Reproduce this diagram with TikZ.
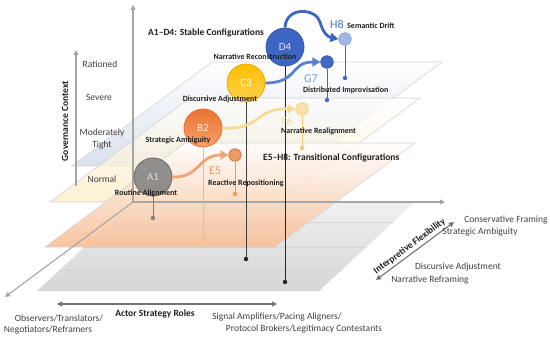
\documentclass[tikz,border=0pt]{standalone}
\usepackage{fontspec}
\setmainfont{Carlito}
\usetikzlibrary{arrows.meta}
\definecolor{axgray}{HTML}{A6A6A6}
\definecolor{txt}{HTML}{404040}
\definecolor{capc}{HTML}{1F1F1F}
\definecolor{aone}{HTML}{7F7F7F}
\definecolor{btwoA}{HTML}{EA7331}
\definecolor{btwoB}{HTML}{F4A36B}
\definecolor{cthreeA}{HTML}{FFBF00}
\definecolor{cthreeB}{HTML}{FAD04F}
\definecolor{dfour}{HTML}{3D66C2}
\definecolor{efive}{HTML}{EF9A61}
\definecolor{fsix}{HTML}{F5DB96}
\definecolor{gseven}{HTML}{3E6AC6}
\definecolor{heightc}{HTML}{A3B7E2}
\definecolor{glab}{HTML}{7E9ED8}
\definecolor{hlab}{HTML}{4A74C6}
\definecolor{flab}{HTML}{F6DE9E}
\definecolor{planeedge}{HTML}{D4D4D4}
\tikzset{
  plane/.style={draw=planeedge, line width=0.6pt},
  axis/.style={draw=axgray, line width=1.1pt, -{Triangle[length=5pt,width=5pt]}},
  daxis/.style={draw=axgray, line width=1.1pt, {Triangle[length=5pt,width=5pt]}-{Triangle[length=5pt,width=5pt]}},
  lvl/.style={text=txt, font=\fontsize{9.5}{11}\selectfont, inner sep=0pt},
  bold/.style={text=capc, font=\fontsize{9.5}{11}\selectfont\bfseries, inner sep=0pt},
  capt/.style={text=capc, font=\fontsize{8}{9}\selectfont\bfseries, inner sep=0pt},
  big/.style={circle, minimum size=38pt, inner sep=0pt, line width=0.8pt, font=\fontsize{11}{12}\selectfont},
  small/.style={circle, minimum size=12.5pt, inner sep=0pt, line width=0.7pt},
  dot/.style={circle, minimum size=4.5pt, inner sep=0pt},
  stem/.style={line width=1pt},
  flow/.style={line width=2.8pt, -{Triangle[length=8pt,width=9pt]}},
  tag/.style={font=\fontsize{12}{13}\selectfont, inner sep=0pt},
}
\begin{document}
\begin{tikzpicture}[x=1pt,y=-1pt]
\useasboundingbox (0,0) rectangle (550,337);
% gray base plane
\shade[top color=white!94!black, bottom color=white!84!black] (133,202) -- (415,202) -- (320,290) -- (38,290) -- cycle;
\draw[planeedge, line width=0.5pt] (110,222) -- (394,222);
\draw[planeedge, line width=0.5pt] (83,247) -- (367,247);
\draw[planeedge, line width=0.5pt] (60,270) -- (342,270);
\draw[planeedge, line width=0.5pt] (38,290) -- (320,290);
% blue plane
\shade[plane, top color=white, bottom color={rgb,255:red,205;green,214;blue,230}, fill opacity=0.75] (212,62) -- (442,62) -- (302,166) -- (72,166) -- cycle;
% yellow plane
\shade[plane, top color=white, bottom color={rgb,255:red,251;green,236;blue,196}, fill opacity=0.75] (190,98) -- (420,98) -- (280,202) -- (50,202) -- cycle;
% orange plane
\shade[plane, top color=white, bottom color={rgb,255:red,247;green,190;blue,150}, fill opacity=0.9] (185,143) -- (415,143) -- (275,247) -- (45,247) -- cycle;
% axes
\coordinate (O) at (133,202);
\coordinate (up) at (133,5);
\coordinate (rt) at (445,202);
\coordinate (dl) at (5,297);
\draw[axis] (O) -- (up);
\draw[axis] (O) -- (rt);
\draw[axis] (O) -- (dl);
% governance context axis
\coordinate (g0) at (76,186);
\coordinate (g1) at (76,50);
\draw[axis] (g0) -- (g1);
\node[bold, rotate=90] (gov) at (65,121) {Governance Context};
\node[lvl] (l1) at (100,64) {Rationed};
\node[lvl] (l2) at (99,97) {Severe};
\node[lvl, align=center, font=\fontsize{9.5}{12.5}\selectfont] (l3) at (102,139) {Moderately\\Tight};
\node[lvl] (l4) at (102,179) {Normal};
% stems and dots
\node[dot, fill=aone] (dA) at (153,218) {};
\node[dot, fill=btwoB!70!white] (dB) at (203,241) {};
\node[dot, fill=black!85] (dC) at (246,259) {};
\node[dot, fill=black!85] (dD) at (285,282) {};
\node[dot, fill=efive] (dE) at (235,194) {};
\node[dot, fill=fsix!80!orange] (dF) at (302,148) {};
\node[dot, fill=gseven] (dG) at (327,100) {};
\node[dot, fill=gseven] (dH) at (345,78) {};
% circles
\node[big, fill=aone, draw=aone!80!black, fill opacity=0.85, text opacity=1, text=white!85!black] (A1) at (153,177) {A1};
\node[big, top color=btwoA, bottom color=btwoB, draw=btwoA, text=white!85!orange] (B2) at (203,128) {B2};
\node[big, top color=cthreeA, bottom color=cthreeB, draw=cthreeA!90!black, text=white!85!yellow] (C3) at (246,83) {C3};
\node[big, fill=dfour, draw=dfour!85!black, text=white!88!blue] (D4) at (285,47) {D4};
\node[small, fill=efive, draw=efive!80!black] (E5) at (235,155) {};
\node[small, fill=fsix!80!white, draw=fsix!85!orange] (F6) at (302,109) {};
\node[small, fill=gseven, draw=gseven!80!black] (G7) at (327,62) {};
\node[small, fill=heightc, draw=heightc!85!blue] (H8) at (345,39) {};
\draw[stem, aone] (A1) -- (dA);
\draw[stem, btwoB!80!white] (B2) -- (dB);
\draw[stem, black!75] (C3) -- (dC);
\draw[stem, black!85] (D4) -- (dD);
\draw[stem, efive] (E5) -- (dE);
\draw[stem, fsix!80!orange] (F6) -- (dF);
\draw[stem, gseven] (G7) -- (dG);
\draw[stem, gseven] (H8) -- (dH);
% flows
\draw[flow, efive!90!white] (A1.east) .. controls (200,178) and (198,155) .. (E5.west);
\draw[flow, fsix] (B2.east) .. controls (262,130) and (255,108) .. (F6.west);
\draw[flow, gseven!85!white] (C3.east) .. controls (298,83) and (290,62) .. (G7.west);
\draw[flow, dfour] (D4.north) .. controls (286,6) and (316,8) .. (320,22) .. controls (323,33) and (328,37) .. (H8.west);
% tags
\node[tag, text=efive] (tE) at (215,171) {E5};
\node[tag, text=flab] (tF) at (287,121) {F6};
\node[tag, text=glab] (tG) at (311,79) {G7};
\node[tag, text=hlab] (tH) at (337,24) {H8};
% captions
\node[capt] (cA) at (146,193) {Routine Alignment};
\node[capt] (cB) at (178,140) {Strategic Ambiguity};
\node[capt] (cC) at (220,99) {Discursive Adjustment};
\node[capt] (cD) at (255,57) {Narrative Reconstruction};
\node[capt, anchor=west] (cH) at (347,26) {Semantic Drift};
\node[capt, anchor=west] (cG) at (303,90) {Distributed Improvisation};
\node[capt, anchor=west] (cF) at (281,131) {Narrative Realignment};
\node[capt, anchor=west] (cE) at (208,183) {Reactive Repositioning};
\node[bold, anchor=west] (s1) at (148,33) {A1–D4: Stable Configurations};
\node[bold, anchor=west] (s2) at (263,158) {E5–H8: Transitional Configurations};
% interpretive flexibility
\coordinate (i0) at (376,280);
\coordinate (i1) at (454,222);
\draw[daxis, draw=black!55] (i0) -- (i1);
\node[bold, rotate=36.6, anchor=south, inner sep=1.5pt] (ifl) at (413,251) {Interpretive Flexibility};
\node[lvl] (r1) at (506,220) {Conservative Framing};
\node[lvl] (r2) at (480,232) {Strategic Ambiguity};
\node[lvl] (r3) at (458,267) {Discursive Adjustment};
\node[lvl] (r4) at (430,280) {Narrative Reframing};
% actor strategy roles
\coordinate (a0) at (57,304);
\coordinate (a1) at (277,304);
\draw[daxis, draw=black!55] (a0) -- (a1);
\node[bold] (asr) at (155,314) {Actor Strategy Roles};
\node[lvl] (b1) at (59,318) {Observers/Translators/};
\node[lvl] (b2) at (48,330) {Negotiators/Reframers};
\node[lvl] (b3) at (277,317) {Signal Amplifiers/Pacing Aligners/};
\node[lvl] (b4) at (304,329) {Protocol Brokers/Legitimacy Contestants};
\end{tikzpicture}
\end{document}
